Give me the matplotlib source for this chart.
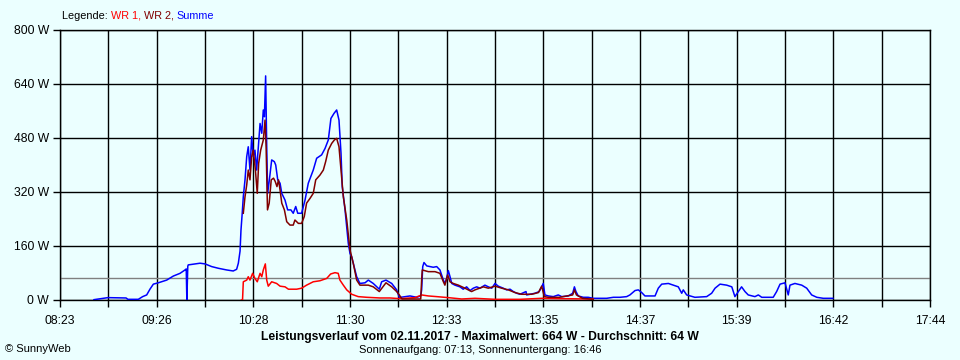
import matplotlib
matplotlib.use('Agg')
import matplotlib.pyplot as plt

plt.rcParams['font.family'] = ['Liberation Sans', 'DejaVu Sans']

# times in minutes after midnight, power in W
summe_t = [524.9, 533.9, 545.6, 546.8, 553.5, 556.3, 558.9, 561.0, 563.2, 566.4, 571.8, 576.1,
           580.4, 583.6, 584.4, 584.8, 585.4, 585.7, 590.0, 593.3, 596.5, 600.8, 605.1, 610.5,
           614.7, 616.9, 618.0, 619.1, 619.7, 620.5, 621.2, 622.3, 623.4, 624.4, 625.5, 626.6,
           627.6, 628.7, 629.8, 630.9, 632.0, 633.1, 634.1, 634.8, 635.6, 636.3, 636.9, 638.0,
           639.5, 641.2, 642.1, 643.4, 644.9, 646.0, 648.1, 649.8, 651.9, 653.4, 655.0, 656.3,
           658.8, 661.0, 663.1, 666.3, 668.5, 671.7, 673.9, 676.0, 677.7, 679.7, 681.4, 682.9,
           684.2, 685.0, 686.8, 688.9, 690.0, 691.1, 692.1, 694.3, 696.4, 699.7, 701.8, 705.0,
           708.9, 710.4, 713.2, 716.9, 720.1, 721.8, 722.7, 725.5, 728.7, 733.0, 735.6, 736.2,
           736.9, 737.7, 739.5, 741.6, 743.7, 745.9, 748.0, 749.1, 750.2, 751.2, 752.3, 753.4,
           754.5, 755.6, 757.7, 760.9, 763.0, 765.2, 767.4, 769.5, 771.7, 773.8, 777.0, 779.2,
           781.4, 783.5, 785.6, 788.8, 791.0, 793.2, 795.3, 797.5, 799.6, 803.5, 803.9, 806.1,
           809.3, 812.0, 813.6, 814.6, 815.7, 817.9, 821.1, 824.3, 826.5, 830.8, 833.6, 834.7,
           835.7, 837.2, 840.4, 843.6, 846.9, 851.2, 855.5, 859.8, 864.1, 868.4, 870.5, 873.8,
           875.9, 878.1, 880.2, 886.7, 888.8, 891.0, 895.3, 898.5, 901.7, 903.9, 904.9, 907.1,
           912.4, 920.0, 923.2, 925.4, 928.6, 932.9, 936.2, 938.2, 940.4, 942.5, 944.7, 946.8,
           951.1, 953.3, 955.5, 962.9, 965.1, 967.3, 970.5, 972.6, 973.7, 976.9, 981.3, 984.5,
           987.7, 991.0, 995.2, 1000.6, 1001.4]
summe_w = [1, 7, 6, 2, 2, 10, 15, 32, 47, 51, 59, 71,
           79, 89, 92, 0, 100, 104, 107, 109, 107, 99, 94, 89,
           86, 91, 109, 145, 207, 257, 306, 356, 425, 454, 385, 484,
           425, 444, 385, 454, 523, 494, 563, 543, 664, 454, 316, 356,
           415, 410, 400, 356, 346, 316, 296, 267, 267, 257, 277, 257,
           257, 296, 346, 385, 420, 430, 449, 474, 538, 553, 563, 533,
           435, 336, 267, 168, 138, 128, 109, 69, 49, 51, 59, 49,
           32, 54, 59, 49, 30, 8, 8, 10, 12, 8, 12, 30,
           99, 111, 101, 99, 97, 99, 89, 74, 59, 49, 64, 87,
           69, 49, 44, 39, 32, 39, 28, 35, 39, 35, 44, 39,
           35, 49, 41, 35, 30, 32, 25, 20, 17, 25, 15, 17,
           20, 25, 39, 49, 15, 12, 10, 15, 10, 12, 20, 39,
           25, 12, 8, 8, 5, 5, 5, 8, 8, 10, 15, 28,
           30, 22, 12, 12, 35, 47, 49, 44, 39, 20, 30, 15,
           8, 10, 20, 35, 47, 44, 39, 10, 25, 39, 25, 15,
           10, 15, 8, 8, 25, 47, 51, 15, 44, 49, 44, 35,
           15, 8, 5, 5, 5]

wr1_t = [620.0, 620.7, 621.2, 623.4, 624.4, 625.5, 627.2, 628.7, 630.2, 632.0, 633.1, 634.1,
         635.4, 636.3, 637.3, 639.5, 642.7, 644.9, 648.1, 650.3, 655.6, 658.8, 662.0, 666.3,
         670.6, 675.0, 677.5, 680.3, 682.4, 683.5, 685.7, 687.9, 691.1, 695.3, 700.8, 709.3,
         715.8, 722.2, 731.9, 736.2, 740.5, 745.9, 753.4, 762.0, 770.6, 783.5, 799.6, 813.6,
         825.4, 846.7]
wr1_w = [0, 0, 54, 59, 69, 59, 79, 64, 54, 79, 69, 89,
         107, 59, 41, 54, 49, 41, 39, 32, 32, 35, 44, 54,
         57, 64, 77, 81, 79, 59, 44, 30, 17, 10, 8, 6,
         6, 4, 7, 15, 12, 10, 7, 3, 5, 2, 2, 5,
         4, 3]

wr2_t = [621.2, 622.3, 623.4, 624.4, 625.5, 626.6, 627.6, 629.0, 630.2, 631.1, 632.4, 634.1,
         635.2, 635.9, 636.8, 637.9, 639.2, 640.7, 641.8, 642.9, 643.9, 644.9, 646.0, 647.7,
         649.2, 651.3, 653.4, 654.5, 656.7, 658.8, 660.5, 662.0, 664.2, 666.3, 667.9, 670.6,
         672.8, 674.3, 676.0, 678.2, 679.9, 681.4, 682.9, 684.2, 685.7, 687.9, 690.0, 692.1,
         694.3, 696.4, 701.8, 705.0, 708.9, 713.2, 716.9, 720.1, 721.8, 723.5, 735.6, 736.2,
         736.6, 740.5, 744.8, 748.0, 750.2, 751.2, 753.0, 754.5, 756.6, 759.9, 764.1, 768.4,
         770.6, 776.0, 779.2, 783.5, 787.8, 792.1, 796.4, 800.7, 807.2, 811.5, 813.6, 815.3,
         818.0, 825.0, 833.6, 834.7, 836.0, 840.0, 846.9]
wr2_w = [257, 306, 341, 385, 356, 425, 444, 385, 316, 405, 444, 474,
         533, 454, 267, 287, 356, 361, 351, 336, 356, 326, 287, 267,
         232, 222, 222, 237, 227, 227, 247, 287, 301, 316, 356, 370,
         385, 410, 444, 464, 474, 479, 454, 385, 306, 237, 148, 109,
         59, 44, 44, 39, 25, 51, 39, 25, 15, 3, 3, 60,
         89, 84, 84, 79, 54, 44, 74, 54, 49, 44, 35, 25,
         30, 39, 35, 41, 35, 30, 22, 17, 17, 22, 41, 10,
         8, 8, 15, 30, 15, 5, 2]

x_labels = ['08:23', '09:26', '10:28', '11:30', '12:33', '13:35', '14:37', '15:39', '16:42', '17:44']
y_ticks = [0, 160, 320, 480, 640, 800]
t_start, t_end = 503, 1064
average = 64

bg = '#ebffff'
fig = plt.figure(figsize=(9.6, 3.6), dpi=100, facecolor=bg)
ax = fig.add_axes([60/960, 60/360, 870/960, 270/360], facecolor=bg)

step = (t_end - t_start) / 18
grid_x = [t_start + i * step for i in range(19)]
for gx in grid_x:
    ax.axvline(gx, color='black', lw=1, zorder=1)
for gy in y_ticks:
    ax.axhline(gy, color='black', lw=1, zorder=1)
ax.axhline(average, color='#808080', lw=1, zorder=1.5)

ax.plot(summe_t, summe_w, color='#0000ff', lw=1.1, zorder=3)
ax.plot(wr1_t, wr1_w, color='#ff0000', lw=1.1, zorder=3)
ax.plot(wr2_t, wr2_w, color='#800000', lw=1.1, zorder=3)

ax.set_xlim(t_start, t_end)
ax.set_ylim(0, 800)
ax.set_xticks(grid_x)
ax.set_xticklabels([x_labels[i // 2] if i % 2 == 0 else '' for i in range(19)])
ax.set_yticks(y_ticks)
ax.set_yticklabels([f'{v} W' for v in y_ticks])
ax.tick_params(axis='both', length=5, width=1, color='black', labelsize=8.7, pad=3)
ax.tick_params(axis='x', pad=6)
for s in ax.spines.values():
    s.set_color('black')
    s.set_linewidth(1)

# legend as coloured text pieces
fig.canvas.draw()
r = fig.canvas.get_renderer()
x = 62
for txt, col in [('Legende: ', 'black'), ('WR 1, ', '#ff0000'), ('WR 2, ', '#800000'), ('Summe', '#0000ff')]:
    t = fig.text(x / 960, 1 - 16 / 360, txt, color=col, fontsize=7.8, va='center', ha='left')
    x += t.get_window_extent(r).width

fig.text(480 / 960, 1 - 337 / 360, 'Leistungsverlauf vom 02.11.2017 - Maximalwert: 664 W - Durchschnitt: 64 W',
         fontsize=8.7, fontweight='bold', ha='center', va='center')
fig.text(480 / 960, 1 - 350 / 360, 'Sonnenaufgang: 07:13, Sonnenuntergang: 16:46',
         fontsize=8, ha='center', va='center')
fig.text(5 / 960, 1 - 349 / 360, '© SunnyWeb', fontsize=8, ha='left', va='center')

fig.savefig('out.png', dpi=100, facecolor=bg)
